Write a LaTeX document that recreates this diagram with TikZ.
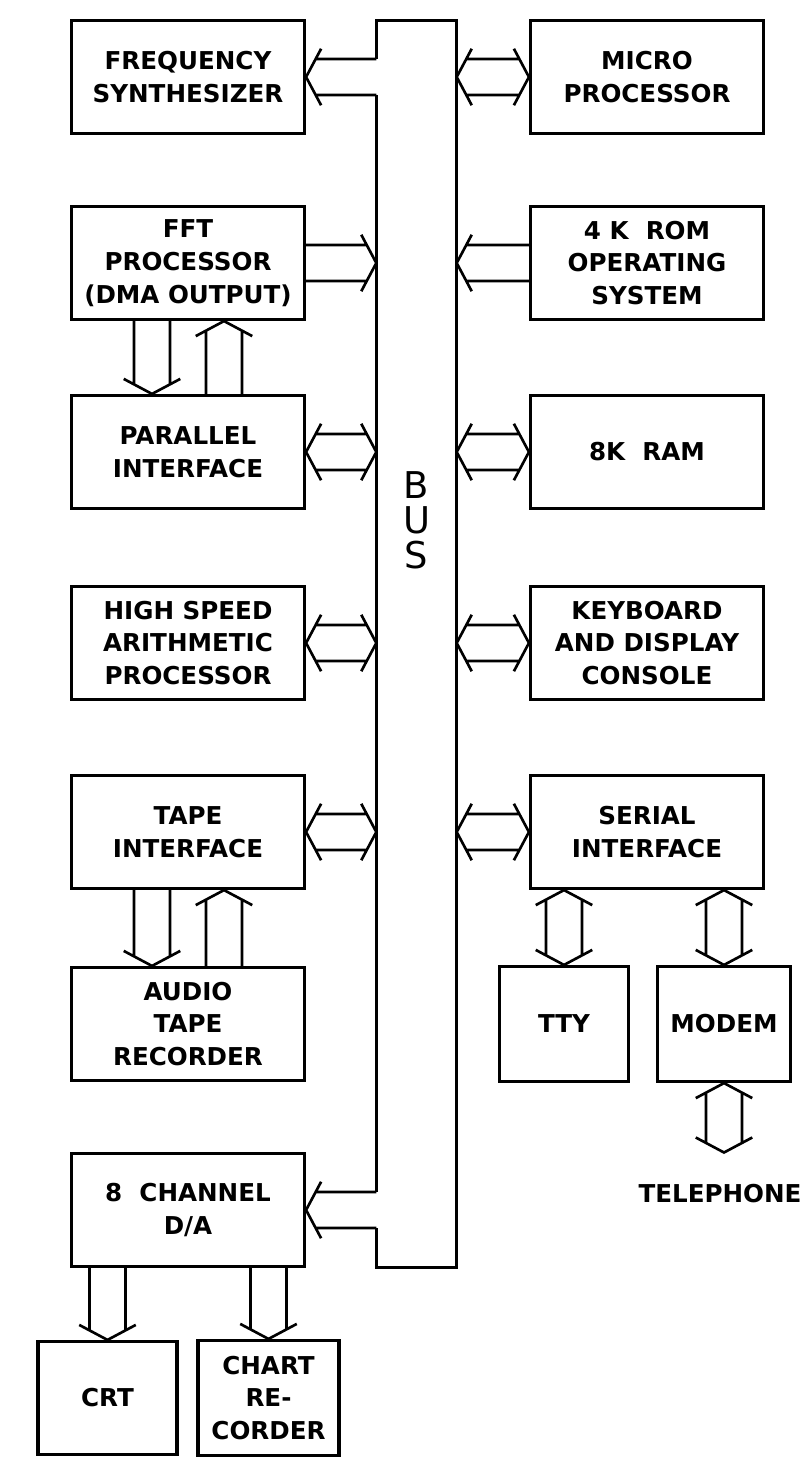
\documentclass[tikz,border=0pt]{standalone}
\usepackage{fontspec}
\setmainfont{DejaVu Sans}
\usetikzlibrary{calc}
\tikzset{
  blk/.style={draw, line width=0.9pt, minimum width=2.33cm, minimum height=1.13cm,
    inner sep=1pt, align=center, font=\fontsize{7}{9.3}\selectfont\bfseries},
  twohead/.style={line width=0.75pt, to path={
    let \p1=($(\tikztotarget)-(\tikztostart)$), \n1={atan2(\y1,\x1)} in
    (\tikztostart) ++(\n1+62:3.2mm) -- (\tikztostart) -- ++(\n1-62:3.2mm)
    (\tikztotarget) ++(\n1+118:3.2mm) -- (\tikztotarget) -- ++(\n1-118:3.2mm)
    ($(\tikztostart)+(\n1+62:2.04mm)$) -- ($(\tikztotarget)+(\n1+118:2.04mm)$)
    ($(\tikztostart)+(\n1-62:2.04mm)$) -- ($(\tikztotarget)+(\n1-118:2.04mm)$)}},
  onehead/.style={line width=0.75pt, to path={
    let \p1=($(\tikztotarget)-(\tikztostart)$), \n1={atan2(\y1,\x1)} in
    (\tikztotarget) ++(\n1+118:3.2mm) -- (\tikztotarget) -- ++(\n1-118:3.2mm)
    ($(\tikztostart)+(\n1+90:1.8mm)$) -- ($(\tikztotarget)+(\n1+118:2.04mm)$)
    ($(\tikztostart)+(\n1-90:1.8mm)$) -- ($(\tikztotarget)+(\n1-118:2.04mm)$)}}
}
\begin{document}
\begin{tikzpicture}
        \useasboundingbox (0,0) rectangle (8.09,-14.58);
        \node[minimum width=0.79cm, minimum height=12.46cm, inner sep=0pt] (bus) at (4.165,-6.44) {};
        \node[font=\fontsize{10.5}{10}\selectfont, align=center] (buslbl) at (4.165,-5.2) {B\\U\\S};
        \node[blk] (fsyn) at (1.88,-0.77) {FREQUENCY\\SYNTHESIZER};
        \node[blk] (fft) at (1.88,-2.63) {FFT\\PROCESSOR\\(DMA OUTPUT)};
        \node[blk] (par) at (1.88,-4.52) {PARALLEL\\INTERFACE};
        \node[blk] (hsap) at (1.88,-6.43) {HIGH SPEED\\ARITHMETIC\\PROCESSOR};
        \node[blk] (tape) at (1.88,-8.32) {TAPE\\INTERFACE};
        \node[blk] (audio) at (1.88,-10.24) {AUDIO\\TAPE\\RECORDER};
        \node[blk] (dac) at (1.88,-12.10) {8\ \ CHANNEL\\D/A};
        \node[blk, minimum width=1.39cm] (crt) at (1.075,-13.98) {CRT};
        \node[blk, minimum width=1.41cm, minimum height=1.15cm] (chart) at (2.685,-13.98) {CHART\\RE-\\CORDER};
        \node[blk] (micro) at (6.47,-0.77) {MICRO\\PROCESSOR};
        \node[blk] (rom) at (6.47,-2.63) {4 K\ \ ROM\\OPERATING\\SYSTEM};
        \node[blk] (ram) at (6.47,-4.52) {8K\ \ RAM};
        \node[blk] (kbd) at (6.47,-6.43) {KEYBOARD\\AND DISPLAY\\CONSOLE};
        \node[blk] (ser) at (6.47,-8.32) {SERIAL\\INTERFACE};
        \node[blk, minimum width=1.29cm, minimum height=1.15cm] (tty) at (5.64,-10.24) {TTY};
        \node[blk, minimum width=1.33cm, minimum height=1.15cm] (modem) at (7.24,-10.24) {MODEM};
        \node[font=\fontsize{7}{9.3}\selectfont\bfseries] (tel) at (7.20,-11.935) {TELEPHONE};
        \coordinate (telin) at (7.24,-11.525);
        \coordinate (fsynbus) at (bus.west |- fsyn.east);
        \coordinate (dacbus) at (bus.west |- dac.east);
        \draw[line width=0.8pt] ($(fsynbus)+(0,0.18)$) -- (bus.north west) -- (bus.north east)
          -- (bus.south east) -- (bus.south west) -- ($(dacbus)+(0,-0.18)$)
          ($(fsynbus)+(0,-0.18)$) -- ($(dacbus)+(0,0.18)$);
        \draw[onehead] (fsynbus) to (fsyn.east);
        \draw[onehead] (dacbus) to (dac.east);
        \draw[onehead] (fft.east) to (fft.east -| bus.west);
        \draw[twohead] (par.east) to (par.east -| bus.west);
        \draw[twohead] (hsap.east) to (hsap.east -| bus.west);
        \draw[twohead] (tape.east) to (tape.east -| bus.west);
        \draw[twohead] (micro.west -| bus.east) to (micro.west);
        \draw[onehead] (rom.west) to (rom.west -| bus.east);
        \draw[twohead] (ram.west -| bus.east) to (ram.west);
        \draw[twohead] (kbd.west -| bus.east) to (kbd.west);
        \draw[twohead] (ser.west -| bus.east) to (ser.west);
        \draw[onehead] ([xshift=-3.6mm]fft.south) to ([xshift=-3.6mm]par.north);
        \draw[onehead] ([xshift=3.6mm]par.north) to ([xshift=3.6mm]fft.south);
        \draw[onehead] ([xshift=-3.6mm]tape.south) to ([xshift=-3.6mm]audio.north);
        \draw[onehead] ([xshift=3.6mm]audio.north) to ([xshift=3.6mm]tape.south);
        \draw[twohead] (ser.south -| tty.north) to (tty.north);
        \draw[twohead] (ser.south -| modem.north) to (modem.north);
        \draw[twohead] (modem.south) to (telin);
        \draw[onehead] (dac.south -| crt.north) to (crt.north);
        \draw[onehead] (dac.south -| chart.north) to (chart.north);
\end{tikzpicture}
\end{document}
